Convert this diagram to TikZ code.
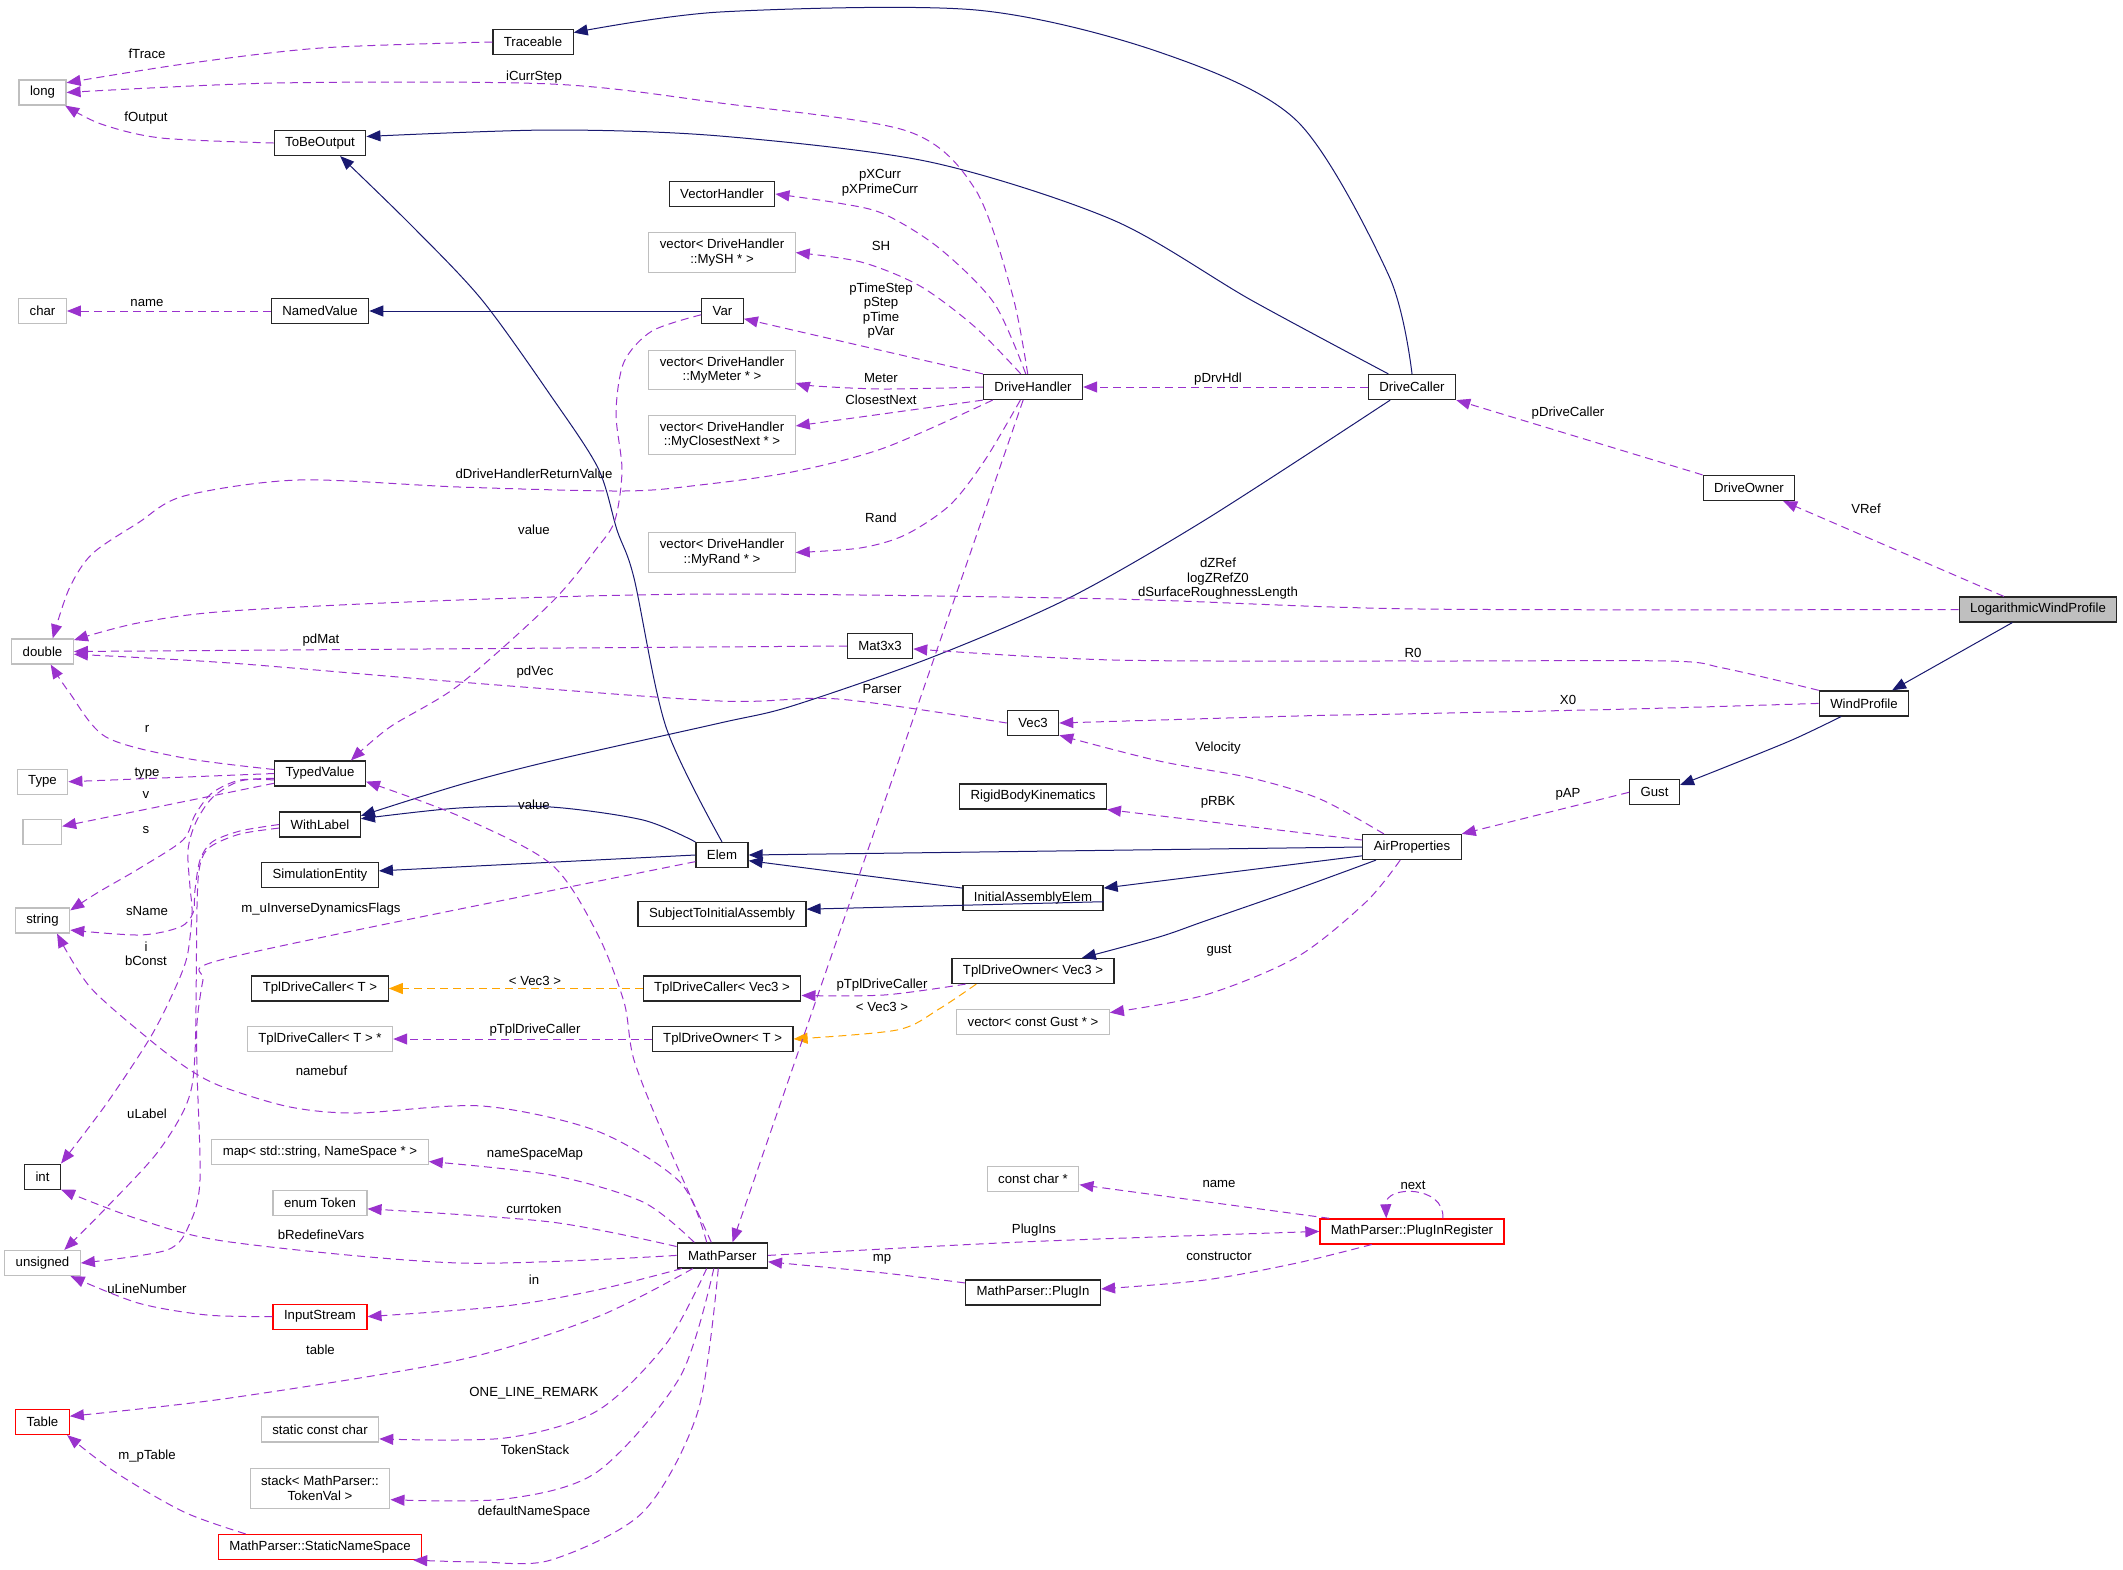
\documentclass[tikz,border=0pt]{standalone}
\usepackage{fontspec}
\setmainfont{Liberation Sans}
\usetikzlibrary{arrows.meta}
\definecolor{inhblue}{RGB}{25,25,112}
\definecolor{usepurple}{RGB}{154,50,205}
\definecolor{tmplorange}{RGB}{255,165,0}
\definecolor{boxgray}{RGB}{191,191,191}
\begin{document}
\begin{tikzpicture}[x=1pt, y=-1pt, font=\fontsize{13.2}{14.5}\selectfont,
    cls/.style={draw=black!85, line width=1.2pt, minimum height=25pt, inner xsep=11pt, inner ysep=2pt, align=center},
    ext/.style={cls, draw=boxgray},
    trunc/.style={cls, draw=red},
    inh/.style={draw=inhblue, line width=1pt, -{Triangle[length=14pt,width=11pt]}},
    mem/.style={draw=usepurple, line width=1pt, dash pattern=on 8pt off 5pt, -{Triangle[length=14pt,width=11pt]}},
    tmpl/.style={mem, draw=tmplorange},
    lbl/.style={inner sep=0pt, align=center}]
    \useasboundingbox (0,0) rectangle (2123,1569);
    % Classes, column by column
    \node[cls] (trace) at (533,42) {Traceable};
    \node[ext] (lng) at (42.5,92.5) {long};
    \node[cls] (tbo) at (320,143) {ToBeOutput};
    \node[cls] (vh) at (722,194) {VectorHandler};
    \node[ext, minimum height=39.6pt] (vsh) at (722,252.6) {vector< DriveHandler\\::MySH * >};
    \node[ext] (chr) at (42.5,311) {char};
    \node[cls] (nv) at (320,311) {NamedValue};
    \node[cls] (var) at (722.5,311) {Var};
    \node[ext, minimum height=39.6pt] (vmet) at (722,370) {vector< DriveHandler\\::MyMeter * >};
    \node[cls] (dh) at (1033,387) {DriveHandler};
    \node[cls] (dc) at (1412,387) {DriveCaller};
    \node[ext, minimum height=39.6pt] (vcn) at (722,435) {vector< DriveHandler\\::MyClosestNext * >};
    \node[cls] (dow) at (1749,488) {DriveOwner};
    \node[ext, minimum height=39.6pt] (vrnd) at (722,552.5) {vector< DriveHandler\\::MyRand * >};
    \node[cls, fill=boxgray] (lwp) at (2038,609.5) {LogarithmicWindProfile};
    \node[ext] (dbl) at (42.5,651.5) {double};
    \node[cls] (mat) at (880,646) {Mat3x3};
    \node[cls] (wp) at (1864,703.4) {WindProfile};
    \node[cls] (vec) at (1033,723) {Vec3};
    \node[cls] (tv) at (320,773.5) {TypedValue};
    \node[ext] (typ) at (42.5,781.7) {Type};
    \node[cls] (gust) at (1654.5,792.3) {Gust};
    \node[cls] (rbk) at (1033,796.5) {RigidBodyKinematics};
    \node[cls] (wl) at (320,824.5) {WithLabel};
    \node[ext, minimum width=38.5pt] (emp) at (42.3,832) {};
    \node[cls] (ap) at (1412,847) {AirProperties};
    \node[cls] (elem) at (722,855) {Elem};
    \node[cls] (sim) at (320,875) {SimulationEntity};
    \node[cls] (iae) at (1033,898) {InitialAssemblyElem};
    \node[cls] (sie) at (722,913.6) {SubjectToInitialAssembly};
    \node[ext] (str) at (42.5,920.5) {string};
    \node[cls] (tdov) at (1033,971) {TplDriveOwner< Vec3 >};
    \node[cls] (tdct) at (320,988.5) {TplDriveCaller< T >};
    \node[cls] (tdcv) at (722,988.5) {TplDriveCaller< Vec3 >};
    \node[ext] (vgst) at (1033,1022) {vector< const Gust * >};
    \node[ext] (tdcp) at (320,1039) {TplDriveCaller< T > *};
    \node[cls] (tdot) at (722.6,1039) {TplDriveOwner< T >};
    \node[ext] (nsmap) at (320,1152) {map< std::string, NameSpace * >};
    \node[cls] (tint) at (42.5,1176.6) {int};
    \node[ext] (cc) at (1033,1179) {const char *};
    \node[ext] (tok) at (320,1203) {enum Token};
    \node[trunc] (pir) at (1412,1231.4) {MathParser::PlugInRegister};
    \node[cls] (mp) at (722.3,1255.4) {MathParser};
    \node[ext] (uns) at (42.5,1263) {unsigned};
    \node[cls] (pin) at (1033,1292.5) {MathParser::PlugIn};
    \node[trunc] (ins) at (320,1316.6) {InputStream};
    \node[trunc] (tbl) at (42.5,1422) {Table};
    \node[ext] (scc) at (320,1429.5) {static const char};
    \node[ext, minimum height=39.6pt] (stk) at (320,1488.5) {stack< MathParser::\\TokenVal >};
    \node[trunc] (sns) at (320,1547) {MathParser::StaticNameSpace};
    % Inheritance
    \draw[inh] plot[smooth] coordinates {(dc.north) (1389,276) (1297,121) (1159,52) (976,10) (720,12) (trace.13)};
    \draw[inh] plot[smooth] coordinates {(dc.151) (1251,300) (1113,220) (930,162) (720,136) (551,130) (tbo.8)};
    \draw[inh] plot[smooth] coordinates {(dc.-149) (1205,520) (1067,599) (930,658) (792,706) (720,723) (551,761) (459,785) (wl.12)};
    \draw[inh] plot[smooth] coordinates {(elem.north) (666,727) (634,578) (617,530) (598,468) (551,396) (482,300) (413,227) (tbo.-33)};
    \draw[inh] plot[smooth] coordinates {(elem.north west) (643,820) (551,807) (459,808) (wl.8)};
    \draw[inh] (elem.west) -- (sim.4);
    \draw[inh] (var.west) -- (nv.east);
    \draw[inh] (ap.west) -- (elem.east);
    \draw[inh] (iae.172) -- (elem.-12);
    \draw[inh] (iae.-3) -- (sie.3);
    \draw[inh] (ap.190) -- (iae.8);
    \draw[inh] plot[smooth] coordinates {(ap.-160) (1297,889) (1205,921) (1159,937) (tdov.15)};
    \draw[inh] (lwp.-153) -- (wp.25);
    \draw[inh] plot[smooth] coordinates {(wp.-150) (1792,740) (1723,768) (gust.16)};
    % Template instances
    \draw[tmpl] (tdcv.west) -- (tdct.east);
    \draw[tmpl] plot[smooth] coordinates {(tdov.-167) (939,1009) (897,1030) (tdot.east)};
    % Members
    \draw[mem] plot[smooth] coordinates {(trace.west) (321,48) (184,64) (lng.22)};
    \draw[mem] plot[smooth] coordinates {(dh.112) (1012,293) (975,189) (907,131) (720,103) (551,84) (276,83) (lng.east)};
    \draw[mem] plot[smooth] coordinates {(tbo.west) (161,138) (101,124) (lng.-30)};
    \draw[mem] (nv.west) -- (chr.east);
    \draw[mem] plot[smooth] coordinates {(dh.119) (994,303) (939,248) (884,214) (838,203) (vh.east)};
    \draw[mem] plot[smooth] coordinates {(dh.133) (975,327) (920,286) (861,262) (vsh.east)};
    \draw[mem] (dh.north west) -- (var.-20);
    \draw[mem] plot[smooth] coordinates {(dh.west) (884,389) (815,386) (vmet.-10)};
    \draw[mem] (dh.south west) -- (vcn.7);
    \draw[mem] plot[smooth] coordinates {(dh.-162) (884,448) (792,472) (700,485) (624,491) (459,487) (298,480) (184,496) (138,523) (92,554) (69,589) (dbl.52)};
    \draw[mem] plot[smooth] coordinates {(dh.-134) (985,460) (950,505) (905,535) (860,548) (vrnd.east)};
    \draw[mem] (dh.-127) -- (mp.52);
    \draw[mem] (dc.west) -- (dh.east);
    \draw[mem] (dow.north west) -- (dc.south east);
    \draw[mem] (lwp.159) -- (dow.-21);
    \draw[mem] plot[smooth] coordinates {(lwp.west) (1420,609) (1113,599) (720,594) (459,600) (230,611) (138,623) (dbl.20)};
    \draw[mem] (mat.west) -- (dbl.east);
    \draw[mem] plot[smooth] coordinates {(vec.west) (838,699) (720,701) (459,682) (230,663) (dbl.-5)};
    \draw[mem] plot[smooth] coordinates {(wp.north west) (1723,668) (1667,661) (1420,661) (1113,660) (mat.-5)};
    \draw[mem] plot[smooth] coordinates {(wp.west) (1630,709) (1400,714) (1297,716) (vec.east)};
    \draw[mem] plot[smooth] coordinates {(ap.155) (1320,799) (1251,778) (1159,761) (vec.-25)};
    \draw[mem] (ap.172) -- (rbk.-10);
    \draw[mem] plot[smooth] coordinates {(ap.-132) (1366,902) (1297,957) (1205,995) (vgst.7)};
    \draw[mem] (gust.west) -- (ap.north east);
    \draw[mem] plot[smooth] coordinates {(var.-170) (652,331) (624,362) (616,413) (622,470) (615,520) (597,548) (551,603) (459,685) (390,727) (tv.23)};
    \draw[mem] plot[smooth] coordinates {(tv.175) (184,758) (106,737) (69,692) (dbl.-58)};
    \draw[mem] (tv.west) -- (typ.east);
    \draw[mem] (tv.-168) -- (emp.16);
    \draw[mem] plot[smooth] coordinates {(tv.-172) (240,780) (212,793) (195,815) (183,840) (140,868) (97,893) (str.20)};
    \draw[mem] plot[smooth] coordinates {(tv.-174) (240,781) (213,797) (196,822) (188,850) (190,887) (192,913) (187,957) (173,993) (150,1038) (107,1103) (tint.north east)};
    \draw[mem] plot[smooth] coordinates {(wl.west) (240,831) (212,842) (200,860) (195,890) (193,913) (180,927) (140,935) (str.-19)};
    \draw[mem] plot[smooth] coordinates {(wl.-175) (240,834) (210,847) (200,865) (197,907) (195,1053) (187,1103) (157,1153) (107,1207) (uns.31)};
    \draw[mem] plot[smooth] coordinates {(elem.-166) (357,930) (210,963) (203,980) (197,1023) (197,1070) (200,1180) (190,1223) (167,1250) (uns.east)};
    \draw[mem] plot[smooth] coordinates {(tdov.-169) (884,995) (tdcv.-5)};
    \draw[mem] (tdot.west) -- (tdcp.east);
    \draw[mem] plot[smooth] coordinates {(mp.130) (666,1141) (634,1060) (624,1002) (597,933) (551,864) (459,816) (tv.-10)};
    \draw[mem] plot[smooth] coordinates {(mp.140) (680,1182) (597,1131) (482,1106) (357,1113) (290,1107) (223,1087) (190,1070) (150,1040) (90,987) (str.-42)};
    \draw[mem] plot[smooth] coordinates {(mp.west) (459,1263) (230,1242) (138,1219) (tint.-35)};
    \draw[mem] plot[smooth] coordinates {(mp.155) (643,1202) (551,1175) (nsmap.-5)};
    \draw[mem] plot[smooth] coordinates {(mp.169) (551,1222) (tok.-7)};
    \draw[mem] plot[smooth] coordinates {(mp.-162) (597,1290) (505,1306) (ins.east)};
    \draw[mem] plot[smooth] coordinates {(mp.-156) (597,1317) (459,1360) (230,1398) (tbl.12)};
    \draw[mem] plot[smooth] coordinates {(mp.-140) (666,1344) (597,1411) (505,1438) (scc.-9)};
    \draw[mem] plot[smooth] coordinates {(mp.-123) (680,1377) (597,1472) (505,1499) (stk.-9)};
    \draw[mem] plot[smooth] coordinates {(mp.-107) (698,1411) (643,1512) (551,1560) (480,1562) (sns.-8)};
    \draw[mem] plot[smooth] coordinates {(sns.170) (184,1512) (115,1472) (tbl.-28)};
    \draw[mem] plot[smooth] coordinates {(ins.west) (207,1315) (138,1303) (uns.-25)};
    \draw[mem] plot[smooth] coordinates {(mp.east) (1021,1242) (pir.west)};
    \draw[mem] plot[smooth] coordinates {(pin.172) (884,1273) (mp.-8)};
    \draw[mem] (pir.171) -- (cc.-7);
    \draw[mem] plot[smooth] coordinates {(pir.-162) (1297,1263) (1205,1280) (pin.3)};
    \draw[mem] (pir.23) .. controls (1445,1185) and (1385,1185) .. (pir.153);
    % Member names
    \node[lbl] (l-ftrace) at (147,54) {fTrace};
    \node[lbl] (l-icurr) at (534,77.5) {iCurrStep};
    \node[lbl] (l-fout) at (146,118) {fOutput};
    \node[lbl] (l-name) at (147,303) {name};
    \node[lbl] (l-pxcurr) at (880,183) {pXCurr\\pXPrimeCurr};
    \node[lbl] (l-sh) at (881,246) {SH};
    \node[lbl] (l-ptime) at (881,310.5) {pTimeStep\\pStep\\pTime\\pVar};
    \node[lbl] (l-meter) at (881,378) {Meter};
    \node[lbl] (l-closest) at (881,400) {ClosestNext};
    \node[lbl] (l-ddh) at (534,473.5) {dDriveHandlerReturnValue};
    \node[lbl] (l-rand) at (881,518) {Rand};
    \node[lbl] (l-value1) at (534,529.5) {value};
    \node[lbl] (l-pdrv) at (1218,379) {pDrvHdl};
    \node[lbl] (l-pdc) at (1568,413) {pDriveCaller};
    \node[lbl] (l-vref) at (1866,509) {VRef};
    \node[lbl] (l-dzref) at (1218,579) {dZRef\\logZRefZ0\\dSurfaceRoughnessLength};
    \node[lbl] (l-pdmat) at (321,640.5) {pdMat};
    \node[lbl] (l-r0) at (1413,653) {R0};
    \node[lbl] (l-parser) at (882,689) {Parser};
    \node[lbl] (l-pdvec) at (535,672.5) {pdVec};
    \node[lbl] (l-x0) at (1568,700) {X0};
    \node[lbl] (l-r) at (147,729) {r};
    \node[lbl] (l-vel) at (1218,748.5) {Velocity};
    \node[lbl] (l-type) at (147,774) {type};
    \node[lbl] (l-pap) at (1568,794.5) {pAP};
    \node[lbl] (l-v) at (146,795.5) {v};
    \node[lbl] (l-prbk) at (1218,802.5) {pRBK};
    \node[lbl] (l-value2) at (534,805) {value};
    \node[lbl] (l-s) at (146,830) {s};
    \node[lbl] (l-sname) at (147,911) {sName};
    \node[lbl] (l-minv) at (321,909) {m\_uInverseDynamicsFlags};
    \node[lbl] (l-ibconst) at (146,954) {i\\bConst};
    \node[lbl] (l-gust) at (1219,950.5) {gust};
    \node[lbl] (l-vec3a) at (535,980.5) {< Vec3 >};
    \node[lbl] (l-ptdc1) at (882,985) {pTplDriveCaller};
    \node[lbl] (l-vec3b) at (882,1007) {< Vec3 >};
    \node[lbl] (l-ptdc2) at (535,1030.5) {pTplDriveCaller};
    \node[lbl] (l-namebuf) at (321.5,1070.5) {namebuf};
    \node[lbl] (l-ulabel) at (147,1114) {uLabel};
    \node[lbl] (l-nsmap) at (535,1154) {nameSpaceMap};
    \node[lbl] (l-next) at (1413,1185.5) {next};
    \node[lbl] (l-pname) at (1219,1183.5) {name};
    \node[lbl] (l-curr) at (534,1208.5) {currtoken};
    \node[lbl] (l-plugins) at (1034,1230.5) {PlugIns};
    \node[lbl] (l-bredef) at (321,1234.5) {bRedefineVars};
    \node[lbl] (l-mp) at (882,1259.5) {mp};
    \node[lbl] (l-ctor) at (1219,1256.5) {constructor};
    \node[lbl] (l-in) at (534,1280) {in};
    \node[lbl] (l-uline) at (147,1289) {uLineNumber};
    \node[lbl] (l-table) at (320.5,1349.5) {table};
    \node[lbl] (l-onel) at (534,1393) {ONE\_LINE\_REMARK};
    \node[lbl] (l-tstack) at (535,1450) {TokenStack};
    \node[lbl] (l-mptable) at (147,1456.5) {m\_pTable};
    \node[lbl] (l-defns) at (534,1512) {defaultNameSpace};
\end{tikzpicture}
\end{document}
